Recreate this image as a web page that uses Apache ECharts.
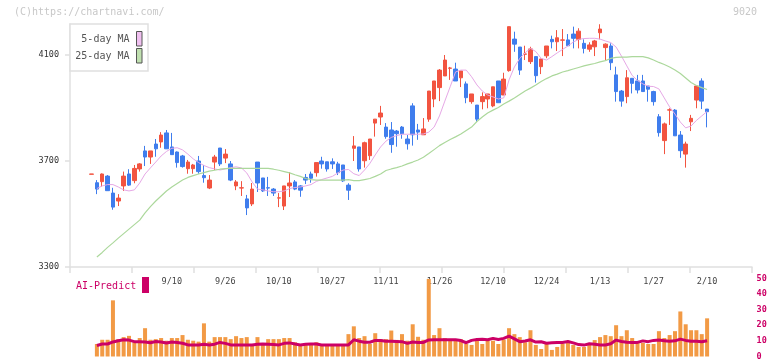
<!DOCTYPE html>
<html><head><meta charset="utf-8">
<script src="https://cdn.jsdelivr.net/npm/echarts@6/dist/echarts.min.js"></script>
<style>html,body{margin:0;padding:0;background:#fff}#c{width:772px;height:361px}</style>
</head><body><div id="c"></div>
<script>
const dates = [
'8/20','8/21','8/22','8/23','8/26','8/27','8/28','8/29','8/30','9/2',
'9/3','9/4','9/5','9/6','9/9','9/10','9/11','9/12','9/13','9/17',
'9/18','9/19','9/20','9/24','9/25','9/26','9/27','9/30','10/1','10/2',
'10/3','10/4','10/7','10/8','10/9','10/10','10/15','10/16','10/17','10/18',
'10/21','10/22','10/23','10/24','10/25','10/27','10/28','10/29','10/30','10/31',
'11/1','11/5','11/6','11/7','11/8','11/11','11/12','11/13','11/14','11/15',
'11/18','11/19','11/20','11/21','11/22','11/26','11/27','11/28','11/29','12/2',
'12/3','12/4','12/5','12/6','12/9','12/10','12/11','12/12','12/13','12/16',
'12/17','12/18','12/19','12/20','12/23','12/24','12/25','12/26','12/27','12/30',
'1/6','1/7','1/8','1/9','1/10','1/13','1/14','1/15','1/16','1/17',
'1/20','1/21','1/22','1/23','1/24','1/27','1/28','1/29','1/30','1/31',
'2/3','2/4','2/5','2/6','2/7','2/10'];
const labelDates = ['9/10','9/26','10/10','10/27','11/11','11/26','12/10','12/24','1/13','1/27','2/10'];

const opens = [
3650,3618,3622,3643,3579,3549,3606,3651,3626,3670,
3738,3715,3764,3772,3806,3753,3734,3719,3671,3671,
3700,3645,3598,3696,3749,3711,3689,3606,3598,3557,
3538,3696,3636,3599,3594,3560,3530,3606,3621,3606,
3638,3651,3656,3700,3697,3697,3689,3685,3609,3748,
3753,3701,3720,3843,3866,3828,3817,3813,3828,3783,
3908,3817,3799,3858,3934,3977,4021,4050,4047,4014,
3991,3924,3911,3924,3934,3908,4002,3949,4041,4160,
4130,4103,4075,4094,4056,4097,4159,4150,4156,4157,
4179,4159,4144,4122,4131,4184,4128,4134,4025,3964,
3943,4012,4002,4002,3983,3962,3867,3777,3892,3892,
3798,3726,3848,3930,4002,3896];
const closes = [
3651,3594,3651,3588,3526,3560,3643,3609,3672,3689,
3715,3738,3746,3798,3746,3724,3694,3679,3696,3685,
3660,3637,3628,3715,3689,3726,3628,3621,3599,3523,
3594,3617,3587,3598,3579,3561,3606,3617,3594,3590,
3628,3635,3694,3689,3670,3689,3656,3625,3590,3757,
3670,3769,3783,3858,3881,3792,3762,3803,3803,3765,
3799,3809,3821,3964,4002,4043,4081,4051,4002,4040,
3939,3953,3858,3943,3953,3980,3920,4009,4207,4141,
4043,4104,4123,4022,4085,4134,4150,4165,4157,4135,
4163,4190,4125,4138,4153,4198,4141,4071,3962,3926,
4014,3993,3968,3962,3971,3924,3807,3840,3893,3795,
3739,3764,3861,3983,3926,3886];
const lows = [
3650,3575,3603,3588,3516,3530,3587,3606,3616,3660,
3681,3689,3716,3750,3746,3724,3675,3675,3652,3652,
3652,3618,3594,3666,3681,3692,3624,3590,3568,3496,
3530,3583,3583,3568,3568,3526,3515,3564,3590,3565,
3613,3618,3641,3671,3660,3670,3647,3621,3553,3700,
3660,3675,3704,3792,3836,3784,3731,3754,3784,3743,
3758,3780,3799,3848,3903,3926,4021,4006,4002,3979,
3918,3916,3848,3895,3899,3903,3920,3949,4037,4112,
4025,4081,4066,3996,4028,4088,4125,4115,4096,4135,
4125,4125,4106,4112,4096,4159,4081,4043,3924,3905,
3918,3955,3955,3962,3924,3909,3792,3726,3836,3795,
3712,3675,3813,3899,3896,3827];
const highs = [
3651,3628,3653,3647,3599,3575,3660,3669,3685,3692,
3757,3738,3783,3809,3817,3806,3736,3723,3704,3689,
3719,3685,3647,3723,3749,3745,3700,3628,3624,3572,
3617,3696,3636,3640,3598,3579,3606,3658,3628,3609,
3651,3660,3694,3716,3697,3710,3697,3685,3616,3794,
3753,3773,3783,3858,3908,3843,3847,3817,3832,3798,
3918,3840,3862,3964,4002,4047,4100,4055,4071,4040,
4000,3953,3911,3959,3953,3980,4002,4033,4207,4188,
4130,4135,4131,4094,4085,4134,4173,4194,4198,4179,
4207,4201,4159,4148,4157,4216,4144,4144,4056,3968,
4043,4012,4025,4025,3983,3965,3877,3845,3899,3896,
3813,3773,3874,3983,4012,3896];
const ma5 = [
null,3596,3606,3611,3611,3602,3591,3587,3591,3617,
3651,3674,3696,3719,3736,3748,3750,3742,3726,3708,
3694,3683,3675,3670,3666,3670,3675,3678,3674,3655,
3621,3594,3591,3587,3584,3584,3587,3596,3600,3602,
3606,3611,3623,3630,3636,3642,3655,3666,3668,3652,
3645,3666,3691,3723,3753,3775,3789,3796,3801,3801,
3801,3801,3802,3809,3828,3870,3926,3980,4036,4043,
4043,4018,3987,3964,3949,3942,3934,3938,4006,4055,
4087,4108,4125,4113,4087,4081,4094,4108,4121,4134,
4149,4159,4162,4163,4163,4160,4153,4147,4130,4096,
4059,4023,4004,3991,3982,3981,3972,3938,3904,3877,
3847,3825,3832,3853,3870,3887];
const ma25 = [
null,3338,3355,3374,3391,3409,3426,3443,3460,3477,
3504,3528,3549,3568,3587,3602,3615,3628,3638,3645,
3651,3656,3662,3665,3669,3671,3672,3672,3672,3672,
3672,3672,3672,3672,3669,3665,3660,3655,3648,3642,
3634,3630,3628,3628,3628,3628,3628,3628,3630,3626,
3626,3630,3634,3642,3651,3664,3670,3675,3681,3689,
3696,3704,3714,3728,3743,3758,3770,3781,3791,3802,
3815,3828,3849,3866,3881,3892,3902,3915,3926,3938,
3951,3964,3975,3987,4000,4011,4021,4028,4036,4041,
4047,4053,4059,4064,4068,4074,4079,4087,4091,4092,
4092,4094,4094,4094,4089,4081,4072,4064,4055,4043,
4030,4013,3996,3985,3977,3970];
const volumes = [
null,8.0,10.7,10.7,35.9,11.1,12.4,13.2,9.1,11.8,
18.1,10.7,11.1,11.8,10.1,11.8,11.8,13.7,10.7,10.1,
9.5,21.2,9.5,12.4,12.4,12.4,11.1,13.0,11.8,12.4,
8.0,12.4,8.0,11.1,11.1,11.1,11.8,11.8,9.1,7.4,
8.0,8.0,9.1,7.4,8.0,8.0,8.0,8.0,14.3,19.3,
11.8,13.0,8.0,14.9,11.1,11.1,16.6,10.6,14.3,10.1,
20.6,12.6,10.7,49.6,13.7,18.1,11.8,11.1,11.1,11.1,
8.0,7.4,10.1,8.0,10.7,10.1,8.0,10.7,18.1,14.3,
12.4,9.1,16.8,7.4,4.8,8.0,4.2,6.1,8.0,9.1,
7.4,6.1,6.1,7.4,10.5,12.4,13.7,13.0,20.0,13.0,
16.8,11.8,9.1,8.7,8.0,8.0,16.2,11.8,13.7,16.2,
28.8,20.6,16.8,16.8,14.3,24.4];
const aiPredict = [
null,7.0,8.0,8.0,9.3,10.1,10.7,10.5,9.5,9.5,
9.3,8.8,9.6,9.3,8.6,9.3,9.0,8.5,7.4,7.4,
7.4,7.8,7.4,7.9,9.0,8.4,7.4,7.4,7.4,7.4,
7.4,7.8,8.0,7.8,7.6,7.4,8.4,8.7,8.0,7.4,
7.8,8.0,8.0,7.4,7.4,7.4,7.4,7.4,7.4,10.7,
9.8,9.1,9.1,10.3,10.3,9.8,9.7,9.6,9.5,8.4,
9.3,9.0,9.0,10.6,10.7,10.7,10.7,10.7,10.7,10.2,
8.8,10.3,10.9,11.0,10.7,11.6,10.9,11.6,13.0,11.3,
9.5,9.9,10.7,9.2,9.4,8.5,8.8,9.0,9.0,9.6,
8.7,7.6,7.3,8.2,7.8,7.3,7.4,8.1,10.5,9.6,
9.1,9.0,9.0,10.0,9.5,10.3,10.5,10.1,9.7,10.0,
11.1,10.3,9.8,9.7,9.4,10.1];
const priceTicks = [3300, 3700, 4100];

const PADL = 3, PADR = 8;
const pad = (arr, v) => Array(PADL).fill(v).concat(arr, Array(PADR).fill(v));
const cats = pad(dates, '');
const candleData = pad(dates.map((d, i) => [opens[i], closes[i], lows[i], highs[i]]), '-');
const mono = '"DejaVu Sans Mono", "Liberation Mono", monospace';
const PMIN = 3300, PMAX = 4217;
const AX = '#e0e0e0';
const RED = '#f25440', BLUE = '#3f7ded';

const chart = echarts.init(document.getElementById('c'), null, {renderer: 'canvas'});
chart.setOption({
  animation: false,
  backgroundColor: '#fff',
  grid: [
    {left: 72.8, top: 24, width: 679.8, height: 243},
    {left: 70, top: 24, width: 682, height: 243},
    {left: 72.8, top: 278.3, width: 679.8, height: 79.4}
  ],
  xAxis: [
    {type: 'category', gridIndex: 0, data: cats, boundaryGap: true,
     axisLine: {show: false}, axisTick: {show: false}, splitLine: {show: false},
     axisLabel: {interval: (i, v) => labelDates.includes(v), fontFamily: mono, fontSize: 8.5,
       color: '#444', margin: 10}},
    {type: 'value', gridIndex: 1, min: 0, max: 11, interval: 1,
     axisLine: {show: true, lineStyle: {color: AX, width: 1.5}},
     axisTick: {show: true, length: 6, lineStyle: {color: AX, width: 1.5}},
     axisLabel: {show: false}, splitLine: {show: false}},
    {type: 'category', gridIndex: 2, data: cats, boundaryGap: true,
     axisLine: {show: false}, axisTick: {show: false}, axisLabel: {show: false}, splitLine: {show: false}}
  ],
  yAxis: [
    {type: 'value', gridIndex: 0, min: PMIN, max: PMAX, show: false, splitLine: {show: false}},
    {type: 'value', gridIndex: 1, min: PMIN, max: PMAX,
     axisLine: {show: true, lineStyle: {color: AX, width: 1.5}},
     axisTick: {show: true, length: 5, customValues: priceTicks, lineStyle: {color: AX, width: 1.5}},
     axisLabel: {customValues: priceTicks, formatter: v => String(v), fontFamily: mono, fontSize: 8.5,
       color: '#333', margin: 11},
     splitLine: {show: false}},
    {type: 'value', gridIndex: 2, position: 'right', min: 0, max: 50, interval: 10,
     axisLine: {show: false}, axisTick: {show: false}, splitLine: {show: false},
     axisLabel: {fontFamily: mono, fontSize: 8.5, fontWeight: 'bold', color: '#cc0066', margin: 4}}
  ],
  series: [
    {type: 'candlestick', name: 'price', xAxisIndex: 0, yAxisIndex: 0, data: candleData,
     barWidth: 4,
     itemStyle: {color: RED, color0: BLUE, borderColor: RED, borderColor0: BLUE, borderWidth: 1}},
    {type: 'line', name: '5-day MA', xAxisIndex: 0, yAxisIndex: 0, data: pad(ma5, null),
     symbol: 'none', lineStyle: {color: '#e6a8e6', width: 1}, z: 3},
    {type: 'line', name: '25-day MA', xAxisIndex: 0, yAxisIndex: 0, data: pad(ma25, null),
     symbol: 'none', lineStyle: {color: '#acd89c', width: 1.2}, z: 3},
    {type: 'bar', name: 'volume', xAxisIndex: 2, yAxisIndex: 2, data: pad(volumes, null),
     barWidth: 4, itemStyle: {color: '#f29a45'}},
    {type: 'line', name: 'AI-Predict', xAxisIndex: 2, yAxisIndex: 2, data: pad(aiPredict, null),
     symbol: 'none', lineStyle: {color: '#cc0066', width: 3}, z: 4}
  ],
  graphic: [
    {type: 'text', x: 14, y: 12.5, style: {text: '(C)https://chartnavi.com/', font: '10px ' + mono,
      fill: '#c8c8c8', verticalAlign: 'middle'}},
    {type: 'text', x: 757, y: 12, style: {text: '9020', font: '10px ' + mono,
      fill: '#c8c8c8', align: 'right', verticalAlign: 'middle'}},
    {type: 'rect', z: 100, shape: {x: 70, y: 24, width: 78, height: 47},
      style: {fill: '#fff', stroke: AX, lineWidth: 1.5}},
    {type: 'text', z: 101, x: 129.5, y: 39.5, style: {text: '5-day MA', font: '10px ' + mono,
      fill: '#555', align: 'right', verticalAlign: 'middle'}},
    {type: 'text', z: 101, x: 129.5, y: 56.5, style: {text: '25-day MA', font: '10px ' + mono,
      fill: '#555', align: 'right', verticalAlign: 'middle'}},
    {type: 'rect', z: 101, shape: {x: 136.5, y: 31.5, width: 5.5, height: 14.5},
      style: {fill: '#f0c0f0', stroke: '#555', lineWidth: 1}},
    {type: 'rect', z: 101, shape: {x: 136.5, y: 48.5, width: 5.5, height: 14.5},
      style: {fill: '#c0e0b0', stroke: '#555', lineWidth: 1}},
    {type: 'text', z: 101, x: 76, y: 286, style: {text: 'AI-Predict', font: '10px ' + mono,
      fill: '#cc0066', verticalAlign: 'middle'}},
    {type: 'rect', z: 101, shape: {x: 142, y: 277, width: 7, height: 16},
      style: {fill: '#cc0066'}}
  ]
});
</script></body></html>
